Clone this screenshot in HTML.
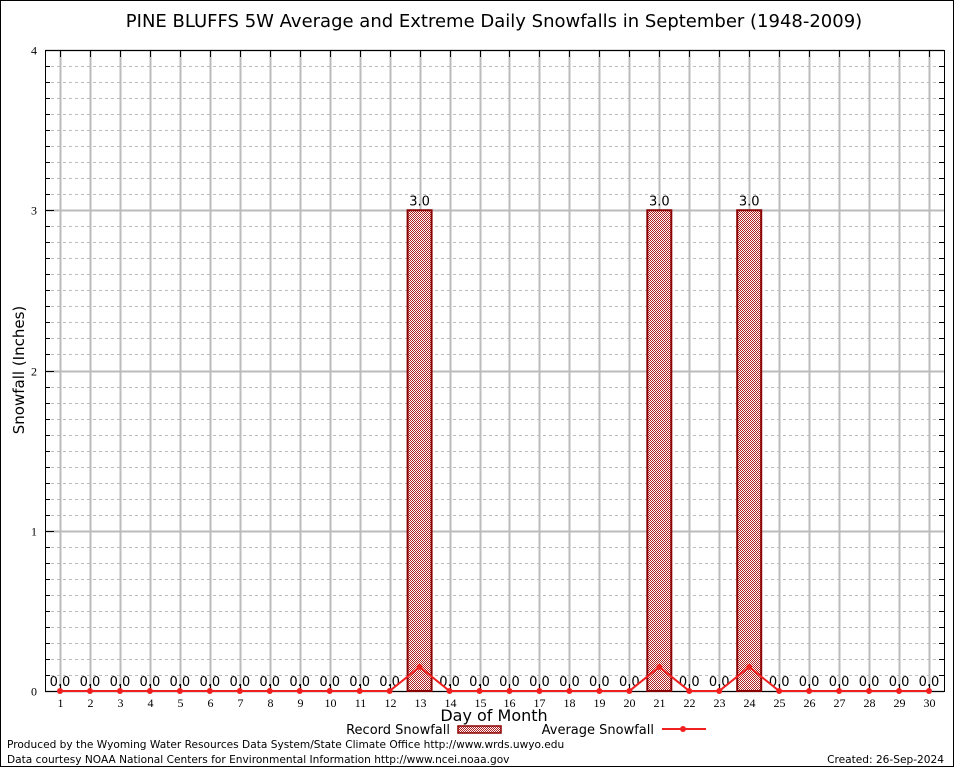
<!DOCTYPE html>
<html><head><meta charset="utf-8"><style>
body{margin:0;background:#fff}
svg{display:block}
text{font-family:"DejaVu Sans","Liberation Sans",sans-serif}
text.serif{font-family:"Liberation Serif",serif}
</style></head><body>
<svg id="c" width="954" height="768" xmlns="http://www.w3.org/2000/svg">
<defs>
<pattern id="chk" width="2" height="2" patternUnits="userSpaceOnUse">
<rect width="2" height="2" fill="#fff"/>
<rect width="1" height="1" fill="#b02020"/><rect x="1" y="1" width="1" height="1" fill="#b02020"/>
</pattern>
</defs>
<rect x="0.5" y="0.5" width="953" height="766" fill="none" stroke="#000"/>
<text x="494" y="27" font-size="18" text-anchor="middle">PINE BLUFFS 5W Average and Extreme Daily Snowfalls in September (1948-2009)</text>
<g id="grid"></g>
<g id="marks"></g>
<text transform="translate(24,370) rotate(-90)" font-size="15" text-anchor="middle">Snowfall (Inches)</text>
<text x="494" y="721" font-size="16" text-anchor="middle">Day of Month</text>
<g>
<text x="450" y="734" font-size="13" text-anchor="end">Record Snowfall</text>
<rect x="458" y="726" width="43" height="7" fill="url(#chk)" stroke="#8b0000" stroke-width="1.5"/>
<text x="654" y="734" font-size="13" text-anchor="end">Average Snowfall</text>
<line x1="662" y1="729" x2="706" y2="729" stroke="#f02020" stroke-width="2"/>
<circle cx="683" cy="729" r="3" fill="#f02020"/>
</g>
<text x="7" y="748" font-size="10.6">Produced by the Wyoming Water Resources Data System/State Climate Office http://www.wrds.uwyo.edu</text>
<text x="7" y="763" font-size="10.6">Data courtesy NOAA National Centers for Environmental Information http://www.ncei.noaa.gov</text>
<text x="944" y="763" font-size="10.6" text-anchor="end">Created:  26-Sep-2024</text>
</svg>
<script>
const days=[1,2,3,4,5,6,7,8,9,10,11,12,13,14,15,16,17,18,19,20,21,22,23,24,25,26,27,28,29,30];
const recordValues=[0,0,0,0,0,0,0,0,0,0,0,0,3,0,0,0,0,0,0,0,3,0,0,3,0,0,0,0,0,0];
const averageValues=[0,0,0,0,0,0,0,0,0,0,0,0,0.15,0,0,0,0,0,0,0,0.15,0,0,0.15,0,0,0,0,0,0];
const yTicks=[0,1,2,3,4];
const NS="http://www.w3.org/2000/svg";
const L=45,R=944,T=50,B=691;
const x=d=>60+(d-1)*(929-60)/29;
const y=v=>B-(v/4)*(B-T);
function mk(p,tag,a,txt){const e=document.createElementNS(NS,tag);for(const k in a)e.setAttribute(k,a[k]);if(txt!=null)e.textContent=txt;p.appendChild(e);return e;}
const g=document.getElementById('grid'),m=document.getElementById('marks');
for(let i=0;i<40;i++){if(i%10===0)continue;const yy=Math.round(y(i/10))+0.5;
 const l=mk(g,'line',{x1:L,x2:R,y1:yy,y2:yy,stroke:'#bbb','stroke-dasharray':'3,3'});
 
 
 mk(g,'line',{x1:L,x2:L+5,y1:yy,y2:yy,stroke:'#000'});mk(g,'line',{x1:R-5,x2:R,y1:yy,y2:yy,stroke:'#000'});}
yTicks.forEach(t=>{const yy=Math.round(y(t))+0.5;
 const l=mk(g,'line',{x1:L,x2:R,y1:yy,y2:yy,stroke:'#bbb','stroke-width':2});
 
 
 mk(g,'line',{x1:L,x2:L+9,y1:yy,y2:yy,stroke:'#000'});
 const tx=mk(g,'text',{x:37,y:yy+4,'font-size':12,'text-anchor':'end','class':'serif'},String(t));
 
 });
days.forEach(d=>{const xx=Math.round(x(d))+0.5;
 const l=mk(g,'line',{x1:xx,x2:xx,y1:T,y2:B,stroke:'#bbb','stroke-width':2});
 
 
 mk(g,'line',{x1:xx,x2:xx,y1:T,y2:T+7,stroke:'#000'});mk(g,'line',{x1:xx,x2:xx,y1:B,y2:B-7,stroke:'#000'});
 const tx=mk(g,'text',{x:xx,y:707,'font-size':12,'text-anchor':'middle','class':'serif'},String(d));
 
 });
const fr=mk(g,'rect',{x:L+0.5,y:T+0.5,width:R-L,height:B-T,fill:'none',stroke:'#000'});


days.forEach((d,i)=>{const v=recordValues[i];
 if(v>0){const r=mk(m,'rect',{x:x(d)-12,y:y(v),width:24,height:y(0)-y(v),fill:'url(#chk)',stroke:'#8b0000','stroke-width':2});
  
  }
 const t=mk(m,'text',{x:x(d),y:y(v)-5,'font-size':13,'text-anchor':'middle'},v.toFixed(1));
 
 });
const pts=days.map((d,i)=>x(d)+','+y(averageValues[i])).join(' ');
const pl=mk(m,'polyline',{points:pts,fill:'none',stroke:'#f02020','stroke-width':2});


days.forEach((d,i)=>{const c=mk(m,'circle',{cx:x(d),cy:y(averageValues[i]),r:3,fill:'#f02020'});
 
 });
</script>
</body></html>
